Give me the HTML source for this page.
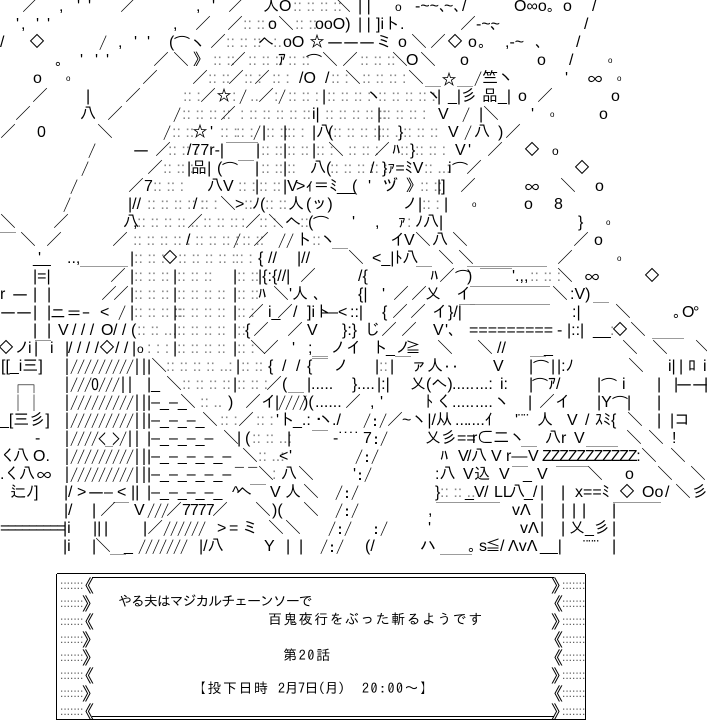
<!DOCTYPE html>
<html><head><meta charset="utf-8">
<style>
html,body{margin:0;padding:0;background:#fff}
body{width:707px;height:721px;overflow:hidden;position:relative}
.r{position:absolute;left:0;width:707px;height:18px}
.r b{position:absolute;top:0;font-weight:400;font-size:16px;line-height:18px;font-family:"Liberation Sans","IPAGothic",sans-serif;white-space:pre;color:#000}
.r b.d{color:#888}
.r b.j{font-family:"IPAGothic",sans-serif}
.r b.k{font-family:"IPAGothic",sans-serif;letter-spacing:-1px}
.r b.t{font-size:8px}
.r b.s{font-size:12px}
.ln{position:absolute;background:#000}
.bx{position:absolute;white-space:pre;font-family:"IPAGothic",sans-serif;font-size:14px;line-height:18px;color:#000}
.dt{position:absolute;white-space:pre;font-family:"Liberation Sans",sans-serif;font-size:12px;line-height:18px;color:#555}
.cv{position:absolute;white-space:pre;font-family:"IPAGothic",sans-serif;font-size:18px;line-height:18px;color:#000}
</style></head><body>

<div class="r" style="top:-2px">
<b style="left:22px">／</b><b style="left:59px">,</b><b style="left:77px">'</b><b style="left:88px">'</b><b style="left:120px">／</b><b style="left:196px">,</b><b style="left:212px">'</b><b style="left:228px">／</b><b style="left:263px">入O</b><b class="d" style="left:293px">:: :: :: ::</b><b style="left:335px">＼</b><b style="left:358px">| |</b><b class="s" style="left:395px">o</b><b style="left:415px">-~~、</b><b style="left:444px">~、</b><b style="left:462px">/</b><b style="left:514px">O∞o。</b><b style="left:563px">o</b><b style="left:592px">/</b>
</div>

<div class="r" style="top:16px">
<b style="left:16px">'</b><b style="left:21px">,</b><b style="left:36px">'</b><b style="left:47px">'</b><b style="left:173px">,</b><b style="left:195px">／</b><b style="left:227px">／</b><b class="d" style="left:243px">:: :: :</b><b style="left:268px">o</b><b style="left:278px">＼</b><b class="d" style="left:295px">:: ::</b><b style="left:315px">ooO)</b><b style="left:358px">| |</b><b style="left:376px">]iト.</b><b style="left:460px">／</b><b style="left:476px">-~~</b><b style="left:490px">、</b><b style="left:584px">/</b>
</div>

<div class="r" style="top:34px">
<b style="left:0px">/</b><b style="left:29px">◇</b><b class="j" style="left:99px">/</b><b style="left:118px">,</b><b style="left:134px">'</b><b style="left:147px">'</b><b style="left:169px">(</b><b class="j" style="left:174px">⌒ヽ</b><b style="left:210px">／</b><b class="d" style="left:226px">:: :: ::</b><b style="left:258px">へ</b><b class="d" style="left:273px">:.</b><b style="left:283px">oO</b><b style="left:309px">☆</b><b class="j" style="left:327px">―――</b><b style="left:376px">ミ</b><b style="left:398px">o</b><b style="left:411px">＼</b><b style="left:430px">／</b><b style="left:447px">◇</b><b style="left:468px">o</b><b style="left:478px">。</b><b style="left:505px">,-~</b><b style="left:535px">、</b><b style="left:576px">/</b>
</div>

<div class="r" style="top:52px">
<b style="left:55px">。</b><b style="left:80px">'</b><b style="left:95px">'</b><b style="left:106px">'</b><b style="left:153px">／</b><b style="left:173px">＼</b><b style="left:193px">》</b><b class="d" style="left:213px">:: ::</b><b style="left:230px">／</b><b class="d" style="left:248px">:: :: ::</b><b style="left:278px">ｱ</b><b class="d" style="left:288px">:: ::</b><b class="j" style="left:306px">⌒</b><b style="left:322px">＼</b><b style="left:342px">／</b><b class="d" style="left:360px">:: :: ::</b><b style="left:392px">＼</b><b style="left:406px">O</b><b style="left:420px">＼</b><b style="left:460px">o</b><b style="left:537px">o</b><b style="left:569px">/</b><b class="t" style="left:608px">o</b>
</div>

<div class="r" style="top:70px">
<b style="left:33px">o</b><b class="t" style="left:66px">o</b><b style="left:142px">／</b><b style="left:192px">／</b><b class="d" style="left:208px">:: ::</b><b style="left:228px">／</b><b class="d" style="left:244px">:: :</b><b style="left:254px">／</b><b class="d" style="left:272px">:: :</b><b style="left:299px">/O</b><b style="left:325px">/</b><b class="d" style="left:331px">:: :</b><b style="left:345px">＼</b><b class="d" style="left:362px">:: :: :: :</b><b style="left:408px">＼</b><b class="j" style="left:425px">＿☆＿</b><b class="j" style="left:474px">/</b><b style="left:482px">竺</b><b style="left:498px">ヽ</b><b style="left:565px">'</b><b class="j" style="left:587px">∞</b><b class="t" style="left:617px">o</b>
</div>

<div class="r" style="top:88px">
<b style="left:32px">／</b><b style="left:86px">|</b><b style="left:125px">／</b><b class="d" style="left:183px">:: :</b><b style="left:200px">／</b><b style="left:216px">☆</b><b class="d" style="left:232px">:</b><b class="j" style="left:239px">/</b><b class="d" style="left:250px">..</b><b style="left:258px">／</b><b class="d" style="left:274px">:</b><b class="j" style="left:278px">/</b><b class="d" style="left:288px">:: :: :</b><b style="left:322px">|</b><b class="d" style="left:327px">:: :: :: :</b><b style="left:366px">ヽ</b><b class="d" style="left:378px">:: :: :: :: :</b><b style="left:426px">ヽ</b><b style="left:437px">|</b><b style="left:448px">_|</b><b style="left:461px">彡</b><b style="left:482px">品</b><b style="left:498px">_|</b><b style="left:518px">o</b><b style="left:537px">／</b><b style="left:611px">o</b>
</div>

<div class="r" style="top:106px">
<b style="left:15px">／</b><b style="left:80px">八</b><b style="left:107px">／</b><b class="j" style="left:173px">/</b><b class="d" style="left:182px">:: :: :: ::</b><b style="left:220px">／</b><b class="d" style="left:240px">: :: :: :: :: ::</b><b style="left:312px">i|</b><b class="d" style="left:325px">:: :: :: :: ::</b><b style="left:377px">|</b><b class="d" style="left:382px">:: :: :: :</b><b style="left:438px">V</b><b class="j" style="left:462px">/</b><b style="left:479px">|</b><b style="left:483px">＼</b><b style="left:531px">'</b><b class="t" style="left:550px">o</b><b style="left:599px">o</b>
</div>

<div class="r" style="top:124px">
<b style="left:0px">／</b><b style="left:37px">0</b><b style="left:97px">＼</b><b class="j" style="left:163px">/</b><b class="d" style="left:172px">:: ::</b><b style="left:192px">☆</b><b style="left:210px">'</b><b class="d" style="left:220px">:: :</b><b class="d" style="left:236px">:: :</b><b class="j" style="left:253px">/</b><b style="left:262px">|</b><b class="d" style="left:266px">:: ::</b><b style="left:283px">|</b><b class="d" style="left:287px">:: :</b><b style="left:312px">|八</b><b style="left:328px">(</b><b class="d" style="left:333px">:: :: :: ::</b><b style="left:377px">|</b><b class="d" style="left:381px">:: ..</b><b style="left:398px">}</b><b class="d" style="left:403px">:: :: ::</b><b style="left:448px">V</b><b class="j" style="left:464px">/</b><b style="left:474px">八</b><b style="left:498px">)</b><b style="left:505px">／</b>
</div>

<div class="r" style="top:142px">
<b class="j" style="left:88px">/</b><b class="j" style="left:133px">―</b><b style="left:155px">／</b><b class="d" style="left:168px">:: :: :</b><b style="left:187px">/77r-|</b><b class="j" style="left:226px">￣￣</b><b style="left:256px">|</b><b class="d" style="left:261px">:: ::</b><b style="left:283px">|</b><b class="d" style="left:287px">:: ::</b><b style="left:312px">|</b><b class="d" style="left:316px">:: :</b><b style="left:328px">＼</b><b class="d" style="left:348px">:: :: :</b><b style="left:374px">／</b><b style="left:392px">ﾊ</b><b class="d" style="left:400px">::</b><b style="left:410px">}</b><b class="d" style="left:415px">:: :: :</b><b style="left:455px">V</b><b style="left:468px">'</b><b style="left:487px">／</b><b style="left:524px">◇</b><b class="s" style="left:552px">o</b>
</div>

<div class="r" style="top:160px">
<b class="j" style="left:81px">/</b><b style="left:147px">／</b><b class="d" style="left:163px">:: :: :</b><b style="left:187px">|品|</b><b style="left:217px">(</b><b class="j" style="left:222px">⌒￣</b><b style="left:255px">|</b><b class="d" style="left:261px">:: ::</b><b style="left:283px">|</b><b class="d" style="left:287px">:: </b><b style="left:310px">八(</b><b class="d" style="left:330px">:: :: :: :: :</b><b style="left:370px">/</b><b style="left:382px">}ｧ=ﾐV</b><b class="d" style="left:424px">:: ..:</b><b style="left:448px">i</b><b class="j" style="left:452px">⌒</b><b style="left:466px">／</b><b style="left:574px">◇</b>
</div>

<div class="r" style="top:178px">
<b class="j" style="left:70px">/</b><b style="left:128px">／</b><b style="left:144px">7</b><b class="d" style="left:153px">:: :: :</b><b style="left:207px">八V</b><b class="d" style="left:238px">:: :</b><b style="left:255px">|</b><b class="d" style="left:259px">:: ::</b><b style="left:283px">|V</b><b style="left:296px">&gt;ｨ＝ﾐ</b><b style="left:337px">__</b><b style="left:352px">(</b><b style="left:368px">'</b><b style="left:382px">ヅ</b><b style="left:406px">》</b><b class="d" style="left:420px">:: ::</b><b style="left:437px">|]</b><b style="left:460px">／</b><b class="j" style="left:524px">∞</b><b style="left:560px">＼</b><b style="left:595px">o</b>
</div>

<div class="r" style="top:196px">
<b class="j" style="left:63px">/</b><b style="left:128px">|//</b><b class="d" style="left:147px">:: :: :: :: :</b><b style="left:193px">/</b><b class="d" style="left:200px">:: :</b><b style="left:220px">＼</b><b style="left:235px">&gt;</b><b class="d" style="left:244px">::</b><b style="left:252px">ﾉ(</b><b class="d" style="left:265px">:: ::</b><b style="left:288px">人</b><b style="left:306px">(ッ)</b><b style="left:402px">ノ</b><b style="left:418px">|</b><b class="d" style="left:422px">:: :</b><b style="left:444px">|</b><b class="t" style="left:472px">o</b><b style="left:524px">o</b><b style="left:554px">8</b>
</div>

<div class="r" style="top:214px">
<b style="left:0px">＼</b><b style="left:53px">／</b><b style="left:123px">八</b><b style="left:133px">,</b><b class="d" style="left:137px">:: :: :: :: ..</b><b style="left:187px">／</b><b class="d" style="left:203px">:: :: ::</b><b class="d" style="left:241px">:</b><b style="left:245px">／</b><b class="d" style="left:259px">:: :</b><b style="left:268px">＼</b><b style="left:285px">へ</b><b class="d" style="left:300px">::</b><b style="left:308px">(</b><b class="j" style="left:313px">⌒</b><b style="left:352px">'</b><b style="left:375px">,</b><b style="left:398px">ｧ</b><b class="d" style="left:407px">:</b><b style="left:415px">ﾉ八|</b><b style="left:578px">}</b><b class="t" style="left:606px">o</b>
</div>

<div class="r" style="top:232px">
<b class="j" style="left:0px">￣</b><b style="left:20px">＼</b><b style="left:46px">／</b><b style="left:112px">／</b><b class="d" style="left:133px">:: :: :: :: :</b><b style="left:186px">/</b><b class="d" style="left:195px">:: :: :: :</b><b class="j" style="left:233px">/</b><b class="d" style="left:242px">:: ::</b><b style="left:253px">／</b><b class="j" style="left:278px">//</b><b style="left:296px">ト</b><b class="d" style="left:312px">::</b><b style="left:320px">ヽ</b><b class="j" style="left:332px">＿</b><b style="left:390px">イ</b><b style="left:404px">V</b><b style="left:415px">＼</b><b style="left:432px">八</b><b style="left:452px">＼</b><b style="left:573px">／</b><b style="left:594px">o</b>
</div>

<div class="r" style="top:250px">
<b style="left:33px">__</b><b style="left:38px">'</b><b style="left:67px">..,</b><b class="j" style="left:80px">＿＿＿</b><b style="left:130px">|</b><b class="d" style="left:134px">:: :: :</b><b style="left:162px">◇</b><b class="d" style="left:178px">:: :: :: :: :</b><b class="d" style="left:235px">:: :</b><b style="left:258px">{</b><b style="left:268px">//</b><b style="left:297px">|//</b><b style="left:348px">＼</b><b style="left:372px">&lt;_|ﾄ八</b><b class="j" style="left:416px">＿</b><b style="left:438px">＼</b><b style="left:458px">＼</b><b class="j" style="left:467px">＿＿＿＿＿</b><b style="left:557px">／</b><b class="t" style="left:617px">o</b>
</div>

<div class="r" style="top:268px">
<b style="left:33px">|=|</b><b style="left:110px">／</b><b style="left:130px">|</b><b class="d" style="left:134px">:: :: ::</b><b style="left:173px">|</b><b class="d" style="left:177px">:: :: ::</b><b style="left:233px">|</b><b class="d" style="left:237px">:: ::</b><b style="left:258px">|{:{//|</b><b style="left:300px">／</b><b style="left:358px">/{</b><b style="left:430px">ﾊ</b><b style="left:439px">／</b><b class="j" style="left:455px">⌒</b><b style="left:467px">)</b><b class="j" style="left:480px">￣￣</b><b style="left:512px">'.,,</b><b class="d" style="left:530px">:: :: :</b><b style="left:557px">＼</b><b class="j" style="left:584px">∞</b><b style="left:644px">◇</b>
</div>

<div class="r" style="top:286px">
<b style="left:0px">r</b><b class="j" style="left:12px">―</b><b style="left:33px">|</b><b style="left:47px">|</b><b style="left:101px">／</b><b style="left:113px">／</b><b style="left:130px">|</b><b class="d" style="left:134px">:: :: ::</b><b style="left:173px">|</b><b class="d" style="left:177px">:: :: :: ::</b><b style="left:233px">|</b><b class="d" style="left:237px">:: ::</b><b style="left:258px">ﾊ</b><b style="left:273px">＼</b><b style="left:289px">'人</b><b style="left:313px">、</b><b style="left:358px">{|</b><b style="left:382px">'</b><b style="left:393px">／</b><b style="left:411px">／</b><b style="left:425px">乂</b><b style="left:456px">イ</b><b class="j" style="left:470px">￣￣￣￣￣</b><b style="left:552px">＼</b><b style="left:570px">:V)</b><b class="j" style="left:593px">＿</b>
</div>

<div class="r" style="top:304px">
<b class="j" style="left:0px">――</b><b style="left:33px">|</b><b style="left:47px">|</b><b class="j" style="left:50px">ニ＝-</b><b style="left:100px">&lt;</b><b class="j" style="left:118px">/</b><b style="left:130px">|</b><b class="d" style="left:134px">:: :: :: ::</b><b style="left:173px">|</b><b class="d" style="left:177px">:: :: :: ::</b><b style="left:233px">|</b><b class="d" style="left:237px">:: :</b><b style="left:248px">／</b><b style="left:268px">i_</b><b style="left:277px">／/</b><b style="left:307px">]iト</b><b style="left:322px">―&lt;</b><b style="left:350px">::|</b><b style="left:382px">{</b><b style="left:392px">／</b><b style="left:410px">／</b><b style="left:432px">イ}/|</b><b class="j" style="left:459px">￣</b><b class="j" style="left:470px">￣￣￣￣￣</b><b style="left:572px">:|</b><b style="left:615px">＼</b><b style="left:673px">。</b><b style="left:682px">O</b><b style="left:693px">°</b>
</div>

<div class="r" style="top:322px">
<b style="left:33px">|</b><b style="left:47px">|</b><b style="left:58px">V</b><b style="left:72px">/ / /</b><b style="left:101px">O</b><b style="left:113px">/ /</b><b style="left:131px">(</b><b class="d" style="left:137px">:: :: ...</b><b style="left:173px">|</b><b class="d" style="left:177px">:: :: :: ::</b><b style="left:233px">|</b><b class="d" style="left:237px">::</b><b style="left:245px">{</b><b style="left:253px">／</b><b style="left:287px">／</b><b style="left:307px">V</b><b style="left:342px">}:}</b><b style="left:364px">じ</b><b style="left:381px">／</b><b style="left:401px">／</b><b style="left:433px">V</b><b style="left:445px">'、</b><b style="left:469px">=========</b><b style="left:557px">-</b><b style="left:567px">|::|</b><b style="left:593px">__</b><b class="d" style="left:610px">:</b><b style="left:612px">◇</b><b style="left:630px">＼</b><b class="j" style="left:652px">＿＿</b>
</div>

<div class="r" style="top:340px">
<b style="left:-2px">◇ノ</b><b style="left:28px">i</b><b style="left:34px">|</b><b class="j" style="left:35px">￣</b><b style="left:50px">i</b><b style="left:65px">|</b><b style="left:68px">/ / / /</b><b style="left:99px">◇</b><b style="left:115px">/ /</b><b style="left:132px">|</b><b class="s" style="left:137px">o</b><b class="d" style="left:147px">: : :</b><b style="left:173px">|</b><b class="d" style="left:177px">:: :: :: ::</b><b style="left:233px">|</b><b class="d" style="left:237px">:: :</b><b style="left:250px">＼</b><b style="left:263px">／</b><b style="left:292px">'</b><b style="left:308px">;</b><b class="j" style="left:312px">＿</b><b style="left:330px">ノイ</b><b style="left:372px">ト</b><b style="left:386px">_ノ</b><b style="left:405px">≧</b><b style="left:437px">＼</b><b style="left:477px">＼</b><b style="left:497px">//</b><b class="j" style="left:530px">＿</b><b style="left:544px">_</b><b style="left:622px">＼</b><b style="left:652px">＼</b><b style="left:695px">＼</b>
</div>

<div class="r" style="top:358px">
<b style="left:1px">[[_i三]</b><b class="k" style="left:63px">|/////////||</b><b style="left:147px">|＼</b><b class="d" style="left:166px">:: :: :: :: ..:</b><b style="left:236px">|</b><b class="d" style="left:241px">:: ::</b><b style="left:268px">{</b><b style="left:282px">/</b><b style="left:296px">/</b><b style="left:307px">{</b><b class="j" style="left:312px">￣</b><b style="left:333px">ノ</b><b style="left:375px">|</b><b class="d" style="left:379px">::</b><b style="left:390px">|</b><b style="left:395px">￣ァ人</b><b class="j" style="left:443px">‥</b><b style="left:493px">V</b><b style="left:529px">|</b><b class="j" style="left:533px">⌒</b><b style="left:551px">|</b><b style="left:557px">|:ﾉ</b><b style="left:628px">＼</b><b style="left:668px">i|</b><b style="left:679px">|</b><b style="left:688px">ﾛ</b><b style="left:703px">i</b>
</div>

<div class="r" style="top:376px">
<b class="j" style="left:10px">┌</b><b class="j" style="left:26px">┐</b><b class="k" style="left:63px">|///O///||</b><b style="left:147px">|_</b><b style="left:166px">＼</b><b class="d" style="left:182px">:: :: :: ::</b><b style="left:233px">|</b><b class="d" style="left:237px">:: :: :</b><b style="left:266px">／</b><b style="left:282px">(</b><b class="j" style="left:288px">＿</b><b style="left:307px">|</b><b style="left:311px">.....</b><b style="left:352px">}</b><b style="left:357px">....</b><b style="left:377px">|:|</b><b style="left:410px">乂(へ)</b><b style="left:452px">.....</b><b style="left:475px">...:</b><b style="left:500px">i:</b><b style="left:529px">|</b><b class="j" style="left:532px">⌒</b><b style="left:548px">ｱ/</b><b style="left:597px">|</b><b class="j" style="left:601px">⌒</b><b style="left:622px">i</b><b style="left:657px">|</b><b style="left:674px">|</b><b class="j" style="left:676px">――</b><b style="left:704px">|</b>
</div>

<div class="r" style="top:394px">
<b class="j" style="left:10px">│</b><b class="j" style="left:26px">│</b><b class="k" style="left:63px">|/////////||</b><b style="left:147px">|–_–_</b><b style="left:180px">＼</b><b class="d" style="left:200px">:: ..</b><b style="left:228px">)</b><b style="left:245px">／イ</b><b style="left:275px">|</b><b class="k" style="left:278px">////</b><b style="left:303px">)(</b><b style="left:315px">......</b><b style="left:345px">／</b><b style="left:370px">,</b><b style="left:380px">'</b><b style="left:425px">ﾄ</b><b style="left:436px">く</b><b style="left:452px">.....</b><b style="left:475px">....</b><b style="left:494px">ヽ</b><b style="left:528px">|</b><b style="left:539px">／イ</b><b style="left:597px">|Y</b><b class="j" style="left:612px">⌒</b><b style="left:627px">|</b><b style="left:657px">|</b>
</div>

<div class="r" style="top:412px">
<b style="left:0px">_[三彡]</b><b class="k" style="left:63px">|/////////||</b><b style="left:147px">|–_–_–_</b><b style="left:202px">＼</b><b class="d" style="left:220px">:: :</b><b style="left:238px">／</b><b class="d" style="left:256px">:: :</b><b style="left:276px">'ト</b><b style="left:293px">_.:・</b><b style="left:318px">ヽ</b><b style="left:332px">./</b><b class="j" style="left:363px">/:/</b><b style="left:387px">／</b><b style="left:402px">~ヽ|/从</b><b style="left:455px">...</b><b style="left:467px">....ｲ</b><b style="left:515px">'¨¨</b><b style="left:537px">人</b><b style="left:567px">V</b><b style="left:585px">/</b><b style="left:595px">ｽﾐ{</b><b style="left:627px">＼</b><b style="left:657px">|</b><b style="left:670px">|コ</b>
</div>

<div class="r" style="top:430px">
<b style="left:35px">-</b><b class="k" style="left:63px">|////&lt;_&gt;/||</b><b style="left:147px">|–_–_–_–</b><b style="left:223px">＼</b><b style="left:237px">|</b><b style="left:245px">(</b><b class="d" style="left:252px">:: :: ..:</b><b style="left:287px">|</b><b class="j" style="left:312px">￣</b><b style="left:333px">-˙˙˙˙</b><b style="left:363px">7</b><b class="j" style="left:372px">:/</b><b style="left:425px">乂彡==</b><b style="left:472px">r⊂二ヽ</b><b class="j" style="left:521px">＿</b><b style="left:545px">八r</b><b style="left:574px">V</b><b class="j" style="left:586px">＿＿</b><b style="left:626px">＼</b><b style="left:648px">＼</b><b style="left:672px">!</b>
</div>

<div class="r" style="top:448px">
<b style="left:0px">く</b><b style="left:13px">八</b><b style="left:33px">O.</b><b class="k" style="left:63px">|/////////||</b><b style="left:147px">|–_–_–_–_–</b><b style="left:242px">＼</b><b class="d" style="left:258px">:: ..:</b><b style="left:279px">&lt;</b><b style="left:289px">'</b><b class="j" style="left:355px">/:/</b><b style="left:440px">ﾊ</b><b style="left:458px">V</b><b style="left:467px">/</b><b style="left:471px">八</b><b style="left:491px">V</b><b style="left:506px">r―</b><b style="left:528px">V</b><b style="left:542px;letter-spacing:-1.2px">ZZZZZZZZZZZ:</b><b style="left:641px">＼</b><b style="left:670px">＼</b>
</div>

<div class="r" style="top:466px">
<b style="left:0px">.</b><b style="left:4px">く</b><b style="left:19px">八</b><b class="j" style="left:36px">∞</b><b class="k" style="left:63px">|/////////||</b><b style="left:147px">|–_–_–_–_–</b><b style="left:235px">¯ ¯</b><b style="left:258px">＼</b><b class="d" style="left:272px">:</b><b style="left:281px">八</b><b style="left:298px">＼</b><b style="left:353px">'</b><b class="j" style="left:356px">:/</b><b style="left:435px">:八</b><b style="left:463px">V</b><b style="left:474px">込</b><b style="left:499px">V</b><b class="j" style="left:512px">￣</b><b style="left:523px">_</b><b style="left:537px">V</b><b class="j" style="left:556px">￣￣</b><b style="left:587px">＼</b><b style="left:625px">o</b><b style="left:657px">＼</b><b style="left:690px">＼</b>
</div>

<div class="r" style="top:484px">
<b style="left:10px">辷ﾉ]</b><b style="left:64px">|</b><b style="left:68px">/</b><b style="left:77px">&gt;</b><b class="j" style="left:88px">―</b><b style="left:104px">–</b><b style="left:117px">&lt;</b><b style="left:131px">||</b><b style="left:147px">|–_–_–_–_</b><b style="left:232px">^</b><b style="left:236px">へ</b><b class="j" style="left:250px">￣</b><b style="left:270px">V</b><b style="left:285px">人</b><b style="left:303px">＼</b><b class="j" style="left:335px">/:/</b><b style="left:435px">}</b><b class="d" style="left:440px">:: :: ..</b><b style="left:465px">_</b><b style="left:474px">V</b><b style="left:484px">/</b><b style="left:494px">LL</b><b style="left:509px">八</b><b style="left:524px">_/</b><b style="left:540px">|</b><b style="left:561px">|</b><b style="left:575px">x==ﾐ</b><b style="left:619px">◇</b><b style="left:642px">Oo</b><b style="left:665px">/</b><b style="left:675px">＼</b><b style="left:692px">彡</b>
</div>

<div class="r" style="top:502px">
<b style="left:64px">|</b><b style="left:68px">/</b><b style="left:92px">|</b><b style="left:100px">／</b><b class="j" style="left:113px">￣</b><b style="left:134px">V</b><b class="k" style="left:147px">///</b><b style="left:166px">／</b><b style="left:182px;letter-spacing:-1px">7777</b><b style="left:212px">／</b><b style="left:255px">＼</b><b style="left:272px">)(</b><b style="left:303px">＼</b><b class="j" style="left:335px">/:/</b><b style="left:428px">,</b><b class="j" style="left:436px">￣￣￣￣</b><b style="left:512px">vΛ</b><b style="left:540px">|</b><b style="left:561px">|</b><b style="left:572px">|</b><b style="left:582px">|</b><b style="left:612px">|</b><b class="j" style="left:613px">￣￣￣</b>
</div>

<div class="r" style="top:520px">
<b style="left:0px;letter-spacing:-2.3px">=========</b><b style="left:63px">|i</b><b style="left:93px">||</b><b style="left:104px">|</b><b style="left:143px">|／</b><b class="k" style="left:163px">//////</b><b style="left:217px">&gt;</b><b style="left:229px">=</b><b style="left:242px">ミ</b><b style="left:268px">＼</b><b style="left:285px">＼</b><b class="j" style="left:328px">/:/</b><b class="j" style="left:372px">:/</b><b style="left:428px">'</b><b style="left:520px">vΛ</b><b style="left:540px">|</b><b style="left:561px">|</b><b style="left:569px">乂_彡</b><b style="left:612px">|</b>
</div>

<div class="r" style="top:538px">
<b style="left:63px">|i</b><b style="left:92px">|</b><b style="left:95px">＼</b><b class="j" style="left:110px">＿</b><b style="left:124px">_</b><b class="k" style="left:138px">///////</b><b style="left:199px">|/八</b><b style="left:264px">Y</b><b style="left:286px">|</b><b style="left:299px">|</b><b class="j" style="left:320px">/:/</b><b style="left:365px">(/</b><b style="left:420px">ハ</b><b class="j" style="left:440px">＿＿</b><b style="left:468px">。</b><b style="left:479px">s</b><b style="left:485px">≦</b><b style="left:500px">/</b><b style="left:508px">ΛvΛ</b><b style="left:540px">__|</b><b style="left:583px">¨¨¨</b><b style="left:612px">|</b>
</div>

<!-- bottom box -->
<div class="ln" style="left:57px;top:573px;width:528px;height:1px"></div>
<div class="ln" style="left:92px;top:577px;width:462px;height:1px"></div>
<div class="ln" style="left:92px;top:716px;width:462px;height:1px"></div>
<div class="ln" style="left:57px;top:719px;width:528px;height:1px"></div>
<div class="ln" style="left:56px;top:574px;width:1px;height:146px"></div>
<div class="ln" style="left:585px;top:574px;width:1px;height:146px"></div>

<div class="dt" style="left:60px;top:576px">:::::::</div>
<div class="dt" style="left:60px;top:594px">:::::::</div>
<div class="dt" style="left:60px;top:612px">:::::::</div>
<div class="dt" style="left:60px;top:630px">:::::::</div>
<div class="dt" style="left:60px;top:648px">:::::::</div>
<div class="dt" style="left:60px;top:666px">:::::::</div>
<div class="dt" style="left:60px;top:684px">:::::::</div>
<div class="dt" style="left:60px;top:702px">:::::::</div>

<div class="dt" style="left:562px;top:576px">:::::::</div>
<div class="dt" style="left:562px;top:594px">:::::::</div>
<div class="dt" style="left:562px;top:612px">:::::::</div>
<div class="dt" style="left:562px;top:630px">:::::::</div>
<div class="dt" style="left:562px;top:648px">:::::::</div>
<div class="dt" style="left:562px;top:666px">:::::::</div>
<div class="dt" style="left:562px;top:684px">:::::::</div>
<div class="dt" style="left:562px;top:702px">:::::::</div>

<div class="cv" style="left:76px;top:577px">《</div>
<div class="cv" style="left:82px;top:595px">》</div>
<div class="cv" style="left:76px;top:613px">《</div>
<div class="cv" style="left:82px;top:631px">》</div>
<div class="cv" style="left:82px;top:649px">》</div>
<div class="cv" style="left:76px;top:667px">《</div>
<div class="cv" style="left:82px;top:685px">》</div>
<div class="cv" style="left:76px;top:703px">《</div>

<div class="cv" style="left:551px;top:577px">》</div>
<div class="cv" style="left:545px;top:595px">《</div>
<div class="cv" style="left:551px;top:613px">》</div>
<div class="cv" style="left:545px;top:631px">《</div>
<div class="cv" style="left:545px;top:649px">《</div>
<div class="cv" style="left:551px;top:667px">》</div>
<div class="cv" style="left:545px;top:685px">《</div>
<div class="cv" style="left:551px;top:703px">》</div>

<div class="bx" style="left:118px;top:592px;letter-spacing:-1.1px">やる夫はマジカルチェーンソーで</div>
<div class="bx" style="left:268px;top:610px;letter-spacing:1.4px">百鬼夜行をぶった斬るようです</div>
<div class="bx" style="left:283px;top:646px;letter-spacing:1.7px">第20話</div>
<div class="bx" style="left:192px;top:679px;letter-spacing:1.5px">【投下日時</div>
<div class="bx" style="left:278px;top:679px;letter-spacing:-0.5px">2月7日(月)</div>
<div class="bx" style="left:362px;top:679px;letter-spacing:1.5px">20:00～】</div>

</body></html>
